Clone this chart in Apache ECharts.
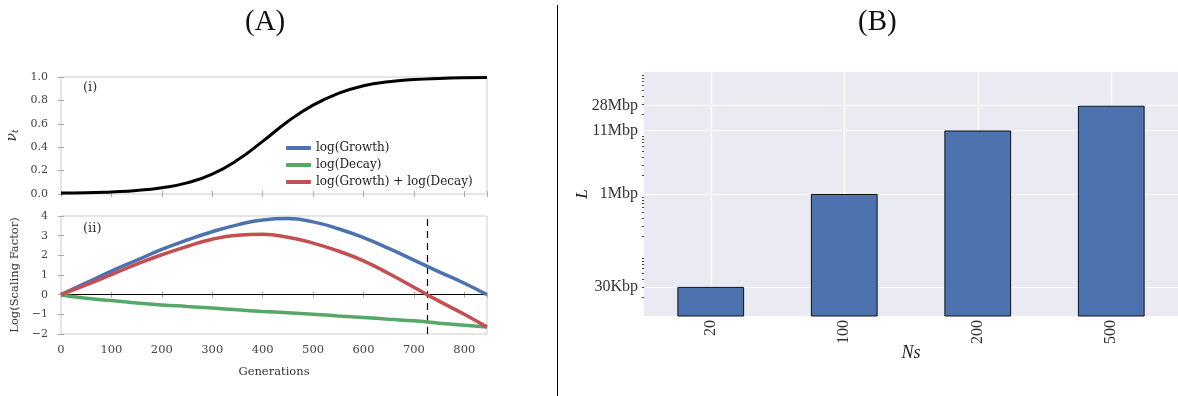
<!DOCTYPE html>
<html>
<head>
<meta charset="utf-8">
<script src="https://cdn.jsdelivr.net/npm/echarts@6/dist/echarts.min.js"></script>
<style>
html, body { margin: 0; padding: 0; background: #fff; }
#chart { width: 1178px; height: 396px; }
</style>
</head>
<body>
<div id="chart"></div>
<script>
// panel A: generations and curves
const generations = [0, 50, 100, 150, 200, 250, 300, 350, 400, 450, 500, 550, 600, 650, 700, 750, 800, 845];
const nuT = [0.008, 0.01, 0.018, 0.03, 0.054, 0.095, 0.17, 0.29, 0.45, 0.62, 0.76, 0.86, 0.925, 0.96, 0.978, 0.988, 0.994, 0.996];
const logGrowth = [0, 0.6, 1.2, 1.75, 2.3, 2.78, 3.2, 3.55, 3.8, 3.87, 3.7, 3.35, 2.9, 2.35, 1.76, 1.16, 0.58, 0];
const logDecay = [-0.02, -0.18, -0.3, -0.42, -0.52, -0.6, -0.68, -0.77, -0.85, -0.92, -1.0, -1.08, -1.16, -1.25, -1.33, -1.45, -1.55, -1.65];
const logCombined = [0, 0.5, 1.02, 1.55, 2.03, 2.45, 2.82, 3.02, 3.07, 2.92, 2.62, 2.22, 1.72, 1.08, 0.38, -0.33, -1.0, -1.65];
const thresholdGeneration = 726;

// panel B: genome length per Ns
const nsCategories = ['20', '100', '200', '500'];
const lengthBp = [3e4, 1e6, 1.1e7, 2.8e7];
const yTickValues = [3e4, 1e6, 1.1e7, 2.8e7];
const yTickLabels = ['30Kbp', '1Mbp', '11Mbp', '28Mbp'];
const minorTickValues = [2e4, 3e4, 4e4, 5e4, 6e4, 7e4, 8e4, 9e4,
  2e5, 3e5, 4e5, 5e5, 6e5, 7e5, 8e5, 9e5,
  2e6, 3e6, 4e6, 5e6, 6e6, 7e6, 8e6, 9e6,
  2e7, 3e7, 4e7, 5e7, 6e7, 7e7, 8e7, 9e7];

const serifA = 'DejaVu Serif';
const serifB = 'Liberation Serif';
const lineColors = ['#4C72B0', '#55A868', '#C44E52'];

const pairs = (ys) => generations.map((g, i) => [g, ys[i]]);

const tickInside = { show: true, inside: true, length: 3, lineStyle: { color: '#aaa' } };

function frameAxis(extra) {
  return Object.assign({
    type: 'value',
    axisLine: { show: false },
    axisTick: tickInside,
    axisLabel: { show: false },
    splitLine: { show: false },
  }, extra);
}

const chart = echarts.init(document.getElementById('chart'));

const option = {
  animation: false,
  grid: [
    { left: 61, top: 77, width: 426, height: 117, show: true, borderColor: '#ccc', borderWidth: 1 },
    { left: 61, top: 216, width: 426, height: 118, show: true, borderColor: '#ccc', borderWidth: 1 },
    { left: 644, top: 72, width: 540, height: 244, show: true, backgroundColor: '#EAEAF2', borderWidth: 0 },
  ],
  legend: {
    left: 281,
    top: 136,
    orient: 'vertical',
    icon: 'roundRect',
    itemWidth: 25,
    itemHeight: 4,
    itemGap: 3,
    textStyle: { fontFamily: serifA, fontSize: 12, color: '#222', lineHeight: 14 },
    data: ['log(Growth)', 'log(Decay)', 'log(Growth) + log(Decay)'],
  },
  xAxis: [
    frameAxis({ gridIndex: 0, min: 0, max: 845, interval: 100 }),
    frameAxis({ gridIndex: 0, min: 0, max: 845, interval: 100, position: 'top' }),
    frameAxis({
      gridIndex: 1, min: 0, max: 845, interval: 100,
      axisLabel: { show: true, showMaxLabel: false, fontFamily: serifA, fontSize: 11.5, color: '#444', margin: 10 },
      name: 'Generations',
      nameLocation: 'middle',
      nameGap: 32,
      nameTextStyle: { fontFamily: serifA, fontSize: 11.5, color: '#333' },
    }),
    frameAxis({ gridIndex: 1, min: 0, max: 845, interval: 100, position: 'top' }),
    {
      gridIndex: 2,
      type: 'category',
      data: nsCategories,
      axisLine: { show: false },
      axisTick: { show: false },
      splitLine: { show: false },
      axisLabel: { rotate: 90, fontFamily: serifB, fontSize: 16, color: '#333', margin: 4 },
      name: 'Ns',
      nameLocation: 'middle',
      nameGap: 28,
      nameMoveOverlap: false,
      nameTextStyle: { fontFamily: serifB, fontStyle: 'italic', fontSize: 18, color: '#222' },
    },
  ],
  yAxis: [
    frameAxis({
      gridIndex: 0, min: 0, max: 1, interval: 0.2,
      axisLabel: { show: true, fontFamily: serifA, fontSize: 11, color: '#444', margin: 13, formatter: (v) => v.toFixed(1) },
      name: '{a|ν}{b|t}',
      nameLocation: 'middle',
      nameRotate: 90,
      nameGap: 41,
      nameTextStyle: {
        rich: {
          a: { fontFamily: serifA, fontStyle: 'italic', fontSize: 14, color: '#333' },
          b: { fontFamily: serifA, fontStyle: 'italic', fontSize: 9, color: '#333', padding: [7, 0, 0, 0] },
        },
      },
    }),
    frameAxis({ gridIndex: 0, min: 0, max: 1, interval: 0.2, position: 'right' }),
    frameAxis({
      gridIndex: 1, min: -2, max: 4, interval: 1,
      axisLabel: { show: true, fontFamily: serifA, fontSize: 11, color: '#444', margin: 13, formatter: (v) => String(v).replace('-', '\u2212') },
      name: 'Log(Scaling Factor)',
      nameLocation: 'middle',
      nameRotate: 90,
      nameGap: 40,
      nameTextStyle: { fontFamily: serifA, fontSize: 11.5, color: '#333' },
    }),
    frameAxis({ gridIndex: 1, min: -2, max: 4, interval: 1, position: 'right' }),
    {
      gridIndex: 2,
      type: 'log',
      logBase: 10,
      min: 1e4,
      max: 1e8,
      axisLine: { show: false },
      splitLine: { show: false },
      axisTick: { show: true, customValues: minorTickValues, length: 2, lineStyle: { color: '#444' } },
      axisLabel: {
        customValues: yTickValues,
        fontFamily: serifB,
        fontSize: 16,
        color: '#333',
        margin: 6,
        formatter(v) {
          const i = yTickValues.findIndex((t) => Math.abs(Math.log10(t) - Math.log10(v)) < 1e-6);
          return i < 0 ? '' : yTickLabels[i];
        },
      },
      name: 'L',
      nameLocation: 'middle',
      nameRotate: 90,
      nameGap: 53,
      nameMoveOverlap: false,
      nameTextStyle: { fontFamily: serifB, fontStyle: 'italic', fontSize: 17, color: '#222' },
    },
  ],
  series: [
    {
      type: 'line', xAxisIndex: 0, yAxisIndex: 0, data: pairs(nuT),
      smooth: true, showSymbol: false,
      lineStyle: { color: '#000', width: 3 }, z: 3,
    },
    {
      // reference lines in the lower plot
      type: 'line', xAxisIndex: 2, yAxisIndex: 2, data: [], z: 1,
      markLine: {
        silent: true, symbol: 'none', label: { show: false }, z: 1,
        data: [
          { yAxis: 0, lineStyle: { color: '#000', width: 1, type: 'solid' } },
          { xAxis: thresholdGeneration, lineStyle: { color: '#000', width: 1.2, type: [7, 5] } },
        ],
      },
    },
    {
      name: 'log(Growth)', type: 'line', xAxisIndex: 2, yAxisIndex: 2, data: pairs(logGrowth),
      smooth: true, showSymbol: false, color: lineColors[0],
      lineStyle: { width: 3.5 }, z: 3,
    },
    {
      name: 'log(Decay)', type: 'line', xAxisIndex: 2, yAxisIndex: 2, data: pairs(logDecay),
      smooth: true, showSymbol: false, color: lineColors[1],
      lineStyle: { width: 3.5 }, z: 3,
    },
    {
      name: 'log(Growth) + log(Decay)', type: 'line', xAxisIndex: 2, yAxisIndex: 2, data: pairs(logCombined),
      smooth: true, showSymbol: false, color: lineColors[2],
      lineStyle: { width: 3.5 }, z: 3,
    },
    {
      // white grid lines behind the bars
      type: 'line', xAxisIndex: 4, yAxisIndex: 4, data: [], z: 1,
      markLine: {
        silent: true, symbol: 'none', label: { show: false }, z: 1,
        lineStyle: { color: '#fff', width: 1.2, type: 'solid' },
        data: yTickValues.map((v) => ({ yAxis: v })).concat(nsCategories.map((c) => ({ xAxis: c }))),
      },
    },
    {
      type: 'bar', xAxisIndex: 4, yAxisIndex: 4, data: lengthBp,
      barWidth: '50%', z: 4,
      itemStyle: { color: '#4C72B0', borderColor: '#111', borderWidth: 1 },
    },
  ],
  graphic: [
    { type: 'text', left: 245, top: 8, style: { text: '(A)', font: '29px "Liberation Serif"', fill: '#111' } },
    { type: 'text', left: 858, top: 8, style: { text: '(B)', font: '29px "Liberation Serif"', fill: '#111' } },
    { type: 'text', left: 83, top: 81, style: { text: '(i)', font: '13px "DejaVu Serif"', fill: '#333' } },
    { type: 'text', left: 83, top: 222, style: { text: '(ii)', font: '13px "DejaVu Serif"', fill: '#333' } },
    { type: 'line', shape: { x1: 557.5, y1: 5, x2: 557.5, y2: 396 }, style: { stroke: '#000', lineWidth: 1 } },
  ],
};

chart.setOption(option);
</script>
</body>
</html>
